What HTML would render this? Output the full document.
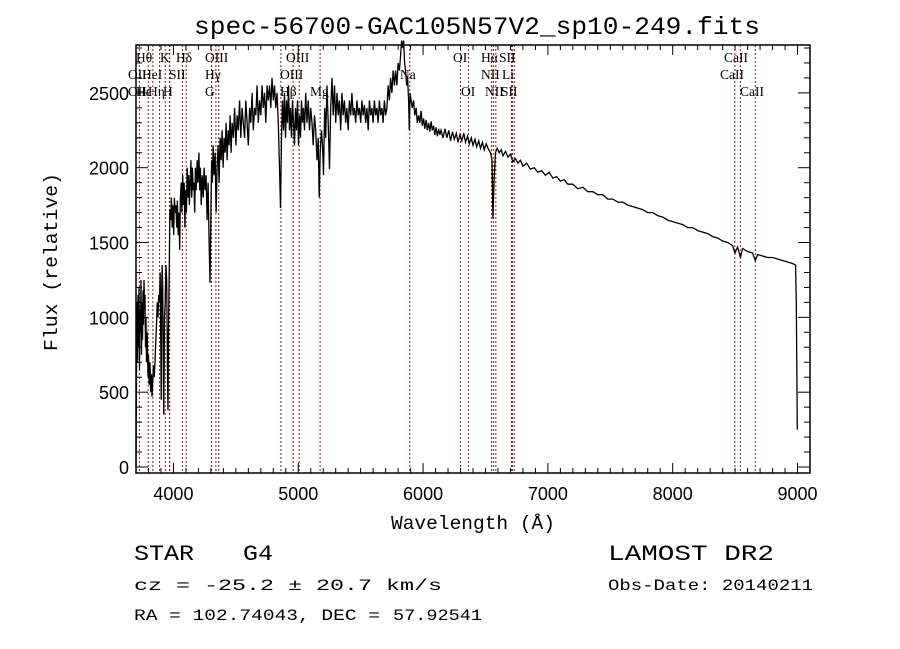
<!DOCTYPE html>
<html><head><meta charset="utf-8"><style>
html,body{margin:0;padding:0;background:#fff;}
svg{display:block;}
</style></head><body>
<svg id="chart" width="900" height="649" xmlns="http://www.w3.org/2000/svg">
<rect width="900" height="649" fill="#fff"/>
<text x="477" y="34" text-anchor="middle" font-family="Liberation Mono, monospace" font-size="25" textLength="566" lengthAdjust="spacingAndGlyphs">spec-56700-GAC105N57V2_sp10-249.fits</text>
<g id="lines"></g>
<g id="spec"></g>
<g id="axes"></g>
<g id="labels" font-family="Liberation Serif, DejaVu Serif, serif" font-size="13.5"></g>
<text x="473" y="529" text-anchor="middle" font-family="Liberation Mono, monospace" font-size="19" textLength="164" lengthAdjust="spacingAndGlyphs">Wavelength (Å)</text>
<text transform="translate(57,262) rotate(-90)" text-anchor="middle" font-family="Liberation Mono, monospace" font-size="19" textLength="178" lengthAdjust="spacingAndGlyphs">Flux (relative)</text>
<g font-family="Liberation Mono, monospace">
<text x="134" y="560" font-size="22" textLength="60" lengthAdjust="spacingAndGlyphs">STAR</text>
<text x="243" y="560" font-size="22" textLength="30" lengthAdjust="spacingAndGlyphs">G4</text>
<text x="134" y="590" font-size="16" textLength="308" lengthAdjust="spacingAndGlyphs">cz = -25.2 ± 20.7 km/s</text>
<text x="134" y="620" font-size="16" textLength="246" lengthAdjust="spacingAndGlyphs">RA = 102.74043, DEC =</text>
<text x="393" y="620" font-size="16" textLength="89" lengthAdjust="spacingAndGlyphs">57.92541</text>
<text x="608" y="560" font-size="22" textLength="166" lengthAdjust="spacingAndGlyphs">LAMOST DR2</text>
<text x="608" y="590" font-size="16" textLength="205" lengthAdjust="spacingAndGlyphs">Obs-Date: 20140211</text>
</g>
</svg>
<script>
const wave = [3700,3704,3708,3712,3716,3720,3724,3728,3732,3736,3740,3744,3748,3752,3756,3760,3764,3768,3772,3776,3780,3784,3790,3796,3800,3806,3812,3818,3824,3828,3834,3840,3846,3852,3858,3864,3870,3876,3882,3888,3894,3898,3902,3906,3910,3914,3918,3922,3928,3934,3940,3946,3952,3956,3960,3966,3972,3978,3984,3990,3996,4002,4008,4014,4020,4026,4032,4038,4044,4050,4056,4062,4068,4074,4080,4086,4092,4098,4104,4110,4116,4122,4128,4134,4140,4146,4152,4158,4164,4170,4176,4182,4190,4196,4204,4210,4216,4222,4230,4238,4246,4254,4262,4270,4278,4286,4293,4300,4306,4312,4318,4326,4334,4342,4350,4358,4366,4374,4382,4390,4398,4406,4414,4422,4430,4438,4446,4454,4462,4470,4480,4490,4500,4510,4520,4530,4540,4550,4560,4570,4580,4590,4600,4610,4620,4630,4640,4650,4660,4670,4680,4690,4700,4710,4720,4730,4740,4750,4760,4770,4780,4790,4800,4810,4820,4830,4840,4850,4858,4866,4874,4882,4890,4898,4906,4914,4922,4930,4938,4946,4954,4962,4970,4978,4986,4994,5002,5010,5018,5026,5034,5042,5050,5060,5070,5080,5090,5100,5110,5120,5130,5140,5150,5160,5168,5176,5186,5194,5202,5212,5220,5230,5240,5250,5260,5270,5280,5290,5300,5310,5320,5330,5340,5350,5360,5370,5380,5390,5400,5410,5420,5430,5440,5450,5460,5470,5480,5490,5500,5510,5520,5530,5540,5550,5560,5570,5580,5590,5600,5610,5620,5630,5640,5650,5660,5670,5680,5690,5700,5710,5720,5730,5740,5750,5760,5770,5780,5790,5800,5810,5820,5828,5836,5844,5852,5860,5868,5876,5884,5890,5896,5904,5914,5924,5934,5944,5954,5964,5974,5984,5994,6004,6014,6024,6034,6044,6054,6064,6074,6084,6094,6104,6114,6124,6134,6144,6160,6176,6190,6206,6220,6236,6250,6266,6280,6296,6310,6326,6340,6356,6370,6386,6400,6416,6430,6446,6460,6476,6490,6506,6520,6540,6552,6560,6568,6580,6594,6610,6626,6640,6660,6680,6700,6720,6740,6760,6780,6800,6830,6860,6890,6920,6950,6980,7010,7040,7070,7100,7130,7160,7200,7240,7280,7320,7360,7400,7440,7480,7520,7560,7600,7640,7680,7720,7760,7800,7840,7880,7920,7960,8000,8040,8080,8120,8160,8200,8240,8280,8320,8360,8400,8440,8480,8498,8520,8542,8560,8600,8640,8662,8680,8720,8760,8800,8840,8880,8920,8960,8985,8990,8995,8998];
const flux = [0,600,1100,700,1150,800,1200,650,1050,900,1250,750,1100,850,1180,950,1250,1050,1150,800,1000,700,900,600,750,550,700,500,620,470,560,680,600,700,820,950,1100,1000,1150,1100,1300,900,450,1200,1350,1200,750,350,1000,1100,1350,1250,600,380,900,1300,1720,1650,1800,1600,1750,1550,1800,1700,1750,1600,1780,1550,1700,1450,1800,1900,1700,1950,1750,1900,1600,1850,1700,2000,1800,1950,1750,1900,2050,1800,2000,1850,1900,1700,2000,1850,2050,1900,2100,1850,2000,1750,1950,1800,2000,1850,1950,1650,1900,1500,1230,1700,2050,1900,2150,1950,2100,1700,2000,2150,1900,2200,2050,2250,2000,2200,2100,2300,2050,2250,2150,2350,2100,2300,2200,2400,2150,2350,2250,2450,2200,2400,2300,2200,2450,2300,2150,2400,2300,2500,2250,2400,2350,2550,2300,2450,2350,2550,2400,2500,2300,2550,2450,2550,2400,2600,2450,2550,2400,2500,2300,2000,1730,2200,2450,2250,2500,2200,2450,2300,2550,2250,2400,2200,2450,2300,2150,2400,2250,2450,2150,2350,2200,2450,2300,2400,2250,2500,2300,2450,2250,2400,2300,2150,2350,2250,2050,2200,1800,2100,2250,2150,1950,2400,2200,2550,2300,1990,2400,2600,2350,2550,2300,2500,2350,2450,2250,2500,2350,2450,2300,2400,2250,2450,2350,2500,2350,2400,2300,2450,2350,2400,2300,2450,2350,2420,2300,2400,2250,2450,2350,2400,2300,2450,2350,2400,2300,2450,2350,2400,2300,2450,2350,2400,2550,2450,2600,2500,2650,2550,2650,2550,2700,2650,2750,2850,2800,2850,2700,2650,2550,2600,2450,2250,2500,2450,2400,2450,2350,2400,2300,2350,2300,2380,2280,2330,2260,2320,2250,2300,2240,2310,2250,2280,2220,2270,2210,2260,2220,2250,2200,2260,2200,2250,2180,2240,2190,2230,2170,2220,2180,2230,2170,2210,2160,2200,2150,2190,2140,2180,2130,2170,2120,2160,2130,2100,2050,1660,1900,2100,2130,2100,2120,2080,2110,2070,2090,2040,2060,2030,2050,2010,2030,1990,2000,1970,1980,1950,1970,1930,1940,1910,1920,1890,1890,1860,1870,1840,1840,1820,1820,1790,1790,1770,1770,1750,1740,1730,1720,1700,1700,1680,1670,1650,1640,1630,1620,1600,1600,1580,1570,1560,1540,1530,1510,1500,1480,1430,1470,1400,1460,1440,1430,1380,1420,1410,1400,1400,1390,1380,1370,1360,1350,1100,600,250];
const xTicks = [4000,5000,6000,7000,8000,9000];
const yTicks = [0,500,1000,1500,2000,2500];
const lineWaves = [3727,3798,3835,3889,3934,3968,3970,4072,4102,4305,4340,4363,4861,4959,5007,5175,5894,6300,6364,6548,6563,6583,6708,6716,6731,8498,8542,8662];
const lineNames = [["Hθ",136,57],["K",160,57],["Hδ",176,57],["OIII",205,57],["OIII",286,57],["OI",453,57],["Hα",481,57],["SII",499,57],["CaII",724,57],
["OII",128,74],["HeI",142,74],["SII",169,74],["Hγ",205,74],["OIII",280,74],["Na",400,74],["NII",481,74],["Li",502,74],["CaII",720,74],
["OII",128,91],["Hε",136,91],["Hη",148,91],["H",163,91],["G",205,91],["Hβ",280,91],["Mg",310,91],["OI",461,91],["NII",485,91],["SII",501,91],["CaII",740,91]];

const L=136,R=810,T=45,B=473, X0=3700,X1=9100, Y0=-40, Y1=2820;
const sx = v => L + (v-X0)/(X1-X0)*(R-L);
const sy = v => B - (v-Y0)/(Y1-Y0)*(B-T);
const NS="http://www.w3.org/2000/svg";
function mk(tag,attrs,parent){const e=document.createElementNS(NS,tag);for(const k in attrs)e.setAttribute(k,attrs[k]);parent.appendChild(e);return e;}

const gl=document.getElementById('lines');
lineWaves.forEach(w=>{
  const l=mk('line',{x1:sx(w),x2:sx(w),y1:T,y2:B,stroke:'#8b1a1a','stroke-width':1,'stroke-dasharray':'2,2'},gl);
  
  
});

const gs=document.getElementById('spec');
const pts=wave.map((w,i)=>sx(w).toFixed(1)+','+sy(flux[i]).toFixed(1)).join(' ');
const pl=mk('polyline',{points:pts,fill:'none',stroke:'#000','stroke-width':1.3},gs);



const ga=document.getElementById('axes');
const fr=mk('rect',{x:L,y:T,width:R-L,height:B-T,fill:'none',stroke:'#000','stroke-width':1.5},ga);


for(let w=3700;w<=9100;w+=100){
  const maj=w%1000===0, len=maj?10:5, x=sx(w);
  mk('line',{x1:x,x2:x,y1:B,y2:B-len,stroke:'#000'},ga);
  mk('line',{x1:x,x2:x,y1:T,y2:T+len,stroke:'#000'},ga);
}
for(let v=0;v<=2800;v+=100){
  const maj=v%500===0, len=maj?12:6, y=sy(v);
  mk('line',{x1:L,x2:L+len,y1:y,y2:y,stroke:'#000'},ga);
  mk('line',{x1:R,x2:R-len,y1:y,y2:y,stroke:'#000'},ga);
}
xTicks.forEach(w=>{
  const t=mk('text',{x:sx(w),y:500,'text-anchor':'middle','font-family':'Liberation Sans, sans-serif','font-size':18},ga);
  t.textContent=w;
  
  
});
yTicks.forEach(v=>{
  const t=mk('text',{x:129,y:sy(v)+7,'text-anchor':'end','font-family':'Liberation Sans, sans-serif','font-size':18},ga);
  t.textContent=v;
  
  
});
const glb=document.getElementById('labels');
lineNames.forEach(n=>{
  const t=mk('text',{x:n[1],y:n[2]+5},glb);
  t.textContent=n[0];
  
  
});
</script>
</body></html>
